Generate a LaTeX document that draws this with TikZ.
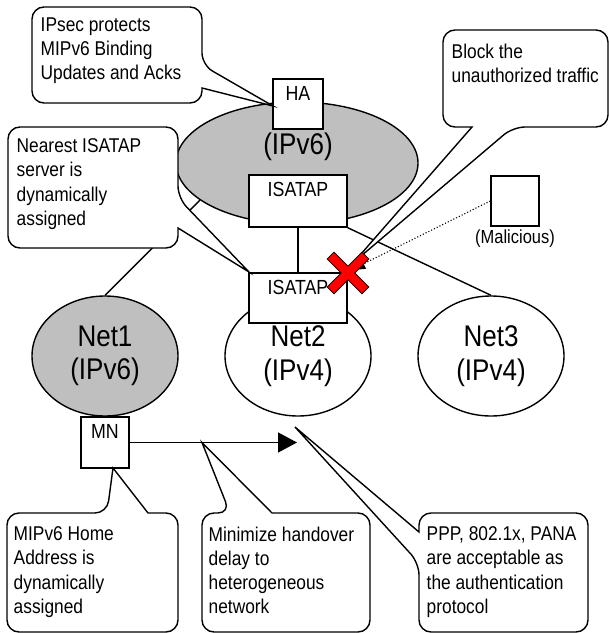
\documentclass[tikz,border=0pt]{standalone}
\usepackage{fontspec}
\setmainfont{Liberation Sans}[FakeStretch=0.87]
\usetikzlibrary{shapes.geometric,arrows.meta}

\tikzset{
    net/.style={ellipse, draw, minimum width=146bp, minimum height=120bp, inner sep=0, align=center, font=\fontsize{30}{33.5}\selectfont},
    unit/.style={draw, fill=white, inner sep=0},
    unittext/.style={anchor=north, inner sep=0, yshift=-7bp, font=\fontsize{20.5}{22}\selectfont},
    bubble/.style={draw, fill=white, rounded corners=12bp},
    bubbletext/.style={anchor=north west, inner sep=0, align=left, font=\fontsize{20}{24.3}\selectfont},
}

\begin{document}
\begin{tikzpicture}[x=1bp, y=-1bp, line width=1.4bp]
                \useasboundingbox (0,0) rectangle (609,633);

                % Draw the IPv6 core network
                \node[ellipse, draw, fill=gray!50, minimum width=242bp, minimum height=122bp, inner sep=0] (core) at (297,163) {};
                \node[inner sep=0, font=\fontsize{30}{33.5}\selectfont] (corename) at (298,147) {(IPv6)};

                % Draw access networks
                \foreach \n/\x/\tone/\ip in {1/105/gray!50/IPv6, 2/298/white/IPv4, 3/491/white/IPv4} {
                    \node[net, fill=\tone] (net\n) at (\x,356) {Net\n\\(\ip)};
                }

                % Draw routers and hosts
                \node[unit, minimum width=50bp, minimum height=50bp, label={[unittext, name=ha-text]north:HA}] (ha) at (298,104) {};
                \node[unit, minimum width=98bp, minimum height=52bp, label={[unittext, name=isatapA-text]north:ISATAP}] (isatapA) at (298,201) {};
                \node[unit, minimum width=98bp, minimum height=50bp, label={[unittext, name=isatapB-text]north:ISATAP}] (isatapB) at (298,298) {};
                \node[unit, minimum width=48bp, minimum height=51bp, label={[unittext, name=mn-text]north:MN}] (mn) at (105,442.5) {};
                \node[unit, minimum width=48bp, minimum height=50bp] (attacker) at (515,201) {};
                \node[inner sep=0, font=\fontsize{19}{21}\selectfont] (attacker-text) at (515,239) {(Malicious)};

                % Draw links
                \draw (core.201) -- (net1.north);
                \draw (isatapA.south) -- (isatapB.north);
                \draw (isatapA.south east) -- (net3.north);

                % Handover of the MN
                \coordinate (target) at (297,442.5);
                \draw[-{Triangle[length=19bp,width=20bp]}] (mn) -- (target);

                % Draw callouts
                \coordinate (c1tip) at (273,106);
                \coordinate (c2tip) at (354,262);
                \coordinate (c3tip) at (249,272);
                \coordinate (c4tip) at (113,468);
                \coordinate (c5tip) at (202,442.5);
                \coordinate (c6tip) at (295,427);

                \draw[bubble] (117,103) -- (32,103) -- (32,7) -- (202,7) -- (202,65) [sharp corners] -- (c1tip) -- (202,88) [rounded corners=12bp] -- (202,103) -- cycle;
                \node[bubbletext] (c1text) at (40,17) {IPsec protects\\MIPv6 Binding\\Updates and Acks};

                \draw[bubble] (525,30) -- (608,30) -- (608,127) -- (513,127) [sharp corners] -- (c2tip) -- (472,127) [rounded corners=12bp] -- (443,127) -- (443,30) -- cycle;
                \node[bubbletext] (c2text) at (451,43) {Block the\\unauthorized traffic};

                \draw[bubble] (93,127) -- (178,127) -- (178,198) [sharp corners] -- (c3tip) -- (178,228) [rounded corners=12bp] -- (178,248) -- (8,248) -- (8,127) -- cycle;
                \node[bubbletext] (c3text) at (16,138) {Nearest ISATAP\\server is\\dynamically\\assigned};

                \draw[bubble] (92,632) -- (7,632) -- (7,513) -- (107,513) [sharp corners] -- (c4tip) -- (148,513) [rounded corners=12bp] -- (178,513) -- (178,632) -- cycle;
                \node[bubbletext] (c4text) at (13,526) {MIPv6 Home\\Address is\\dynamically\\assigned};

                \draw[bubble] (286,632) -- (202,632) -- (202,513) -- (230,513) [sharp corners] -- (c5tip) -- (272,513) [rounded corners=12bp] -- (370,513) -- (370,632) -- cycle;
                \node[bubbletext] (c5text) at (208,526) {Minimize handover\\delay to\\heterogeneous\\network};

                \draw[bubble] (503,513) -- (588,513) -- (588,632) -- (419,632) -- (419,563) [sharp corners] -- (c6tip) -- (419,532) [rounded corners=12bp] -- (419,513) -- cycle;
                \node[bubbletext] (c6text) at (426,526) {PPP, 802.1x, PANA\\are acceptable as\\the authentication\\protocol};

                % Traffic from the malicious host
                \coordinate (hit) at (351,270);
                \draw[line width=1.1bp, dotted, -{Triangle[length=14bp,width=11bp]}] (attacker.west) -- (hit);

                % Draw the block mark
                \coordinate (blocked) at (348,273);
                \begin{scope}[shift={(blocked)}]
                    \draw[line width=10.5bp, line cap=rect] (-14,-14) -- (14,14) (-14,14) -- (14,-14);
                    \draw[red, line width=8.5bp, line cap=rect] (-14,-14) -- (14,14) (-14,14) -- (14,-14);
                \end{scope}
            \end{tikzpicture}
\end{document}
